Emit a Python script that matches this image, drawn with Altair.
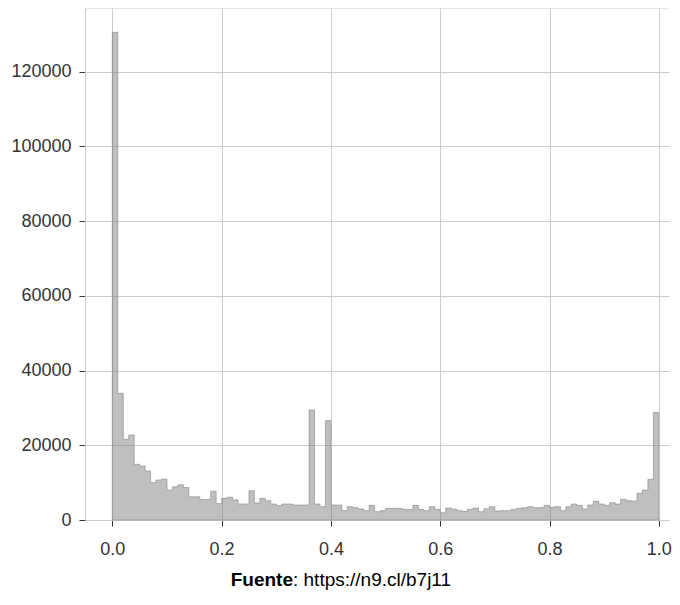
import altair as alt
import pandas as pd

# histogram: 100 bins of width 0.01 from 0 to 1
bin_edges = [round(i * 0.01, 2) for i in range(101)]
counts = [
    130500, 33900, 21600, 22750, 14900, 14450, 13100, 10000, 10700, 10900,
    8000, 8900, 9400, 8700, 6200, 6200, 5500, 5500, 7700, 4400,
    5800, 6100, 5400, 4300, 4300, 7850, 4550, 5800, 5170, 4280,
    3880, 4280, 4280, 4000, 4000, 4000, 29450, 4280, 3570, 26600,
    4000, 4000, 2500, 3570, 3300, 2940, 2500, 3920, 2230, 2500,
    3120, 3120, 3120, 2850, 2850, 3920, 2850, 2500, 3570, 2850,
    1960, 3210, 2940, 2500, 2320, 2850, 3210, 2230, 3030, 3570,
    2410, 2500, 2500, 2850, 3120, 3300, 3570, 3300, 3300, 3920,
    3390, 3570, 2500, 3570, 4280, 3920, 2940, 4010, 5000, 4280,
    3920, 4640, 4280, 5530, 5170, 5080, 7140, 8030, 10880, 28800,
]

x_ticks = [0.0, 0.2, 0.4, 0.6, 0.8, 1.0]
y_ticks = [0, 20000, 40000, 60000, 80000, 100000, 120000]
caption_bold = "Fuente"
caption_rest = ": https://n9.cl/b7j11"

df = pd.DataFrame({"x": bin_edges, "count": counts + [counts[-1]]})

W, H = 584, 512
FONT = "Liberation Sans"
CAP_X = 208

area = alt.Chart(df).mark_area(
    interpolate="step-after",
    fill="#808080",
    fillOpacity=0.5,
    stroke="#808080",
    strokeOpacity=0.55,
    strokeWidth=1,
).encode(
    x=alt.X(
        "x:Q",
        title=None,
        scale=alt.Scale(domain=[-0.05, 1.0186], nice=False, zero=False),
        axis=alt.Axis(values=x_ticks, format=".1f", labelPadding=14),
    ),
    y=alt.Y(
        "count:Q",
        title=None,
        scale=alt.Scale(domain=[0, 137000], nice=False),
        axis=alt.Axis(values=y_ticks, format="d", labelPadding=8),
    ),
)

top_border = alt.Chart(pd.DataFrame({"a": [0]})).mark_rule(
    color="#cccccc", strokeWidth=1
).encode(x=alt.value(0), x2=alt.value(W), y=alt.value(0))

cap1 = alt.Chart(pd.DataFrame({"t": [caption_bold]})).mark_text(
    align="right", baseline="middle", font=FONT, fontSize=19,
    fontWeight="bold", color="#000000",
).encode(text="t:N", x=alt.value(CAP_X), y=alt.value(572))

cap2 = alt.Chart(pd.DataFrame({"t": [caption_rest]})).mark_text(
    align="left", baseline="middle", font=FONT, fontSize=19,
    color="#000000",
).encode(text="t:N", x=alt.value(CAP_X), y=alt.value(572))

chart = alt.layer(area, top_border, cap1, cap2).properties(
    width=W,
    height=H,
    autosize=alt.AutoSizeParams(type="none"),
    padding={"left": 77, "top": 0, "right": 3, "bottom": 76},
).configure_view(
    strokeWidth=0
).configure_axis(
    domainColor="#cccccc",
    gridColor="#cccccc",
    gridWidth=1,
    tickColor="#333333",
    tickSize=6,
    labelFont=FONT,
    labelFontSize=18,
    labelColor="#333333",
)

chart.save("out.html", embed_options={"renderer": "svg", "actions": False})
